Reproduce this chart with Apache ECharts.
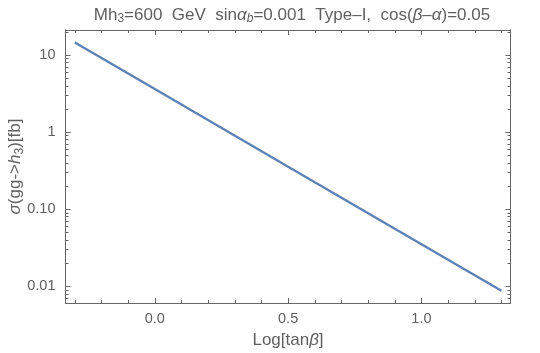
<!DOCTYPE html>
<html>
<head>
<meta charset="utf-8">
<script src="https://cdn.jsdelivr.net/npm/echarts@6/dist/echarts.min.js"></script>
<style>
  html, body { margin: 0; padding: 0; background: #fff; }
  #chart { width: 540px; height: 353px; }
</style>
</head>
<body>
<div id="chart"></div>
<script>
// Log[tanβ] vs σ(gg->h3)
const logTanBeta = [-0.3, 0.0, 0.5, 1.0, 1.3];
const sigmaFb = [14.6, 3.63, 0.357, 0.0352, 0.00877];

const xMajor = [0, 0.5, 1.0];
const xMajorLabels = ['0.0', '0.5', '1.0'];
const xMinor = [-0.3, -0.2, -0.1, 0.1, 0.2, 0.3, 0.4, 0.6, 0.7, 0.8, 0.9, 1.1, 1.2, 1.3];
const yMajor = [0.01, 0.1, 1, 10];
const yMajorLabels = ['0.01', '0.10', '1', '10'];
const yMinor = [0.007, 0.008, 0.009,
  0.02, 0.03, 0.04, 0.05, 0.06, 0.07, 0.08, 0.09,
  0.2, 0.3, 0.4, 0.5, 0.6, 0.7, 0.8, 0.9,
  2, 3, 4, 5, 6, 7, 8, 9, 20];

const xRange = [-0.335, 1.334];
const yRange = [0.00608, 21.2];

const gray = '#666666';
const textGray = '#606060';
const font = 'Liberation Sans';

const richBase = {
  n: { fontSize: 17, color: textGray, fontFamily: font, fontWeight: 'normal', lineHeight: 20 },
  i: { fontSize: 17, color: textGray, fontFamily: font, fontWeight: 'normal', fontStyle: 'italic', lineHeight: 20 },
  s: { fontSize: 12, color: textGray, fontFamily: font, fontWeight: 'normal', verticalAlign: 'bottom', lineHeight: 20 },
  si: { fontSize: 12, color: textGray, fontFamily: font, fontWeight: 'normal', fontStyle: 'italic', verticalAlign: 'bottom', lineHeight: 20 },
};

const labelFor = (ticks, labels) => (v) => {
  let best = 0;
  ticks.forEach((t, i) => {
    if (Math.abs(Math.log(t) - Math.log(v)) < Math.abs(Math.log(ticks[best]) - Math.log(v))) best = i;
  });
  return labels[best];
};

const makeX = (grid, pos, ticks, len, withLabels) => ({
  type: 'value',
  gridIndex: grid,
  position: pos,
  min: xRange[0],
  max: xRange[1],
  axisLine: { show: true, onZero: false, lineStyle: { color: gray, width: 1 } },
  axisTick: { show: true, inside: true, length: len, customValues: ticks, lineStyle: { color: gray } },
  axisLabel: withLabels ? {
    show: true, customValues: ticks, margin: 8, fontSize: 14.5, color: textGray, fontFamily: font,
    formatter: (v) => xMajorLabels[xMajor.findIndex((t) => Math.abs(t - v) < 1e-6)]
  } : { show: false },
  splitLine: { show: false },
  name: withLabels ? '{n|Log[tan}{i|β}{n|]}' : '',
  nameLocation: 'middle',
  nameGap: 27,
  nameMoveOverlap: false,
  nameTextStyle: { rich: richBase },
});

const makeY = (grid, pos, ticks, len, withLabels) => ({
  type: 'log',
  logBase: 10,
  gridIndex: grid,
  position: pos,
  min: yRange[0],
  max: yRange[1],
  axisLine: { show: true, onZero: false, lineStyle: { color: gray, width: 1 } },
  axisTick: { show: true, inside: true, length: len, customValues: ticks, lineStyle: { color: gray } },
  axisLabel: withLabels ? {
    show: true, customValues: ticks, margin: 10, fontSize: 14.5, color: textGray, fontFamily: font,
    formatter: labelFor(yMajor, yMajorLabels)
  } : { show: false },
  splitLine: { show: false },
  name: withLabels ? '{i|σ}{n|(gg->}{i|h}{s|3}{n|)[fb]}' : '',
  nameLocation: 'middle',
  nameGap: 40,
  nameRotate: 90,
  nameMoveOverlap: false,
  nameTextStyle: { rich: richBase },
});

const gridBox = { left: 65.5, right: 29.5, top: 30, bottom: 50, containLabel: false, outerBoundsMode: 'none' };

const chart = echarts.init(document.getElementById('chart'));
chart.setOption({
  animation: false,
  backgroundColor: '#ffffff',
  title: {
    text: '{n|Mh}{s|3}{n|=600  GeV  sin}{i|α}{si|b}{n|=0.001  Type\u2013I,  cos(}{i|β}{n|\u2013}{i|α}{n|)=0.05}',
    left: 287,
    top: 0,
    textAlign: 'center',
    textStyle: { fontWeight: 'normal', rich: richBase },
  },
  grid: [
    Object.assign({}, gridBox),
    Object.assign({}, gridBox),
  ],
  xAxis: [
    makeX(0, 'bottom', xMajor, 5, true),
    makeX(0, 'top', xMajor, 5, false),
    makeX(1, 'bottom', xMinor, 3, false),
    makeX(1, 'top', xMinor, 3, false),
  ],
  yAxis: [
    makeY(0, 'left', yMajor, 5, true),
    makeY(0, 'right', yMajor, 5, false),
    makeY(1, 'left', yMinor, 3, false),
    makeY(1, 'right', yMinor, 3, false),
  ],
  series: [
    {
      type: 'line',
      xAxisIndex: 0,
      yAxisIndex: 0,
      data: logTanBeta.map((x, i) => [x, sigmaFb[i]]),
      showSymbol: false,
      lineStyle: { color: '#5e81b5', width: 2.3 },
      silent: true,
    },
  ],
});
</script>
</body>
</html>
